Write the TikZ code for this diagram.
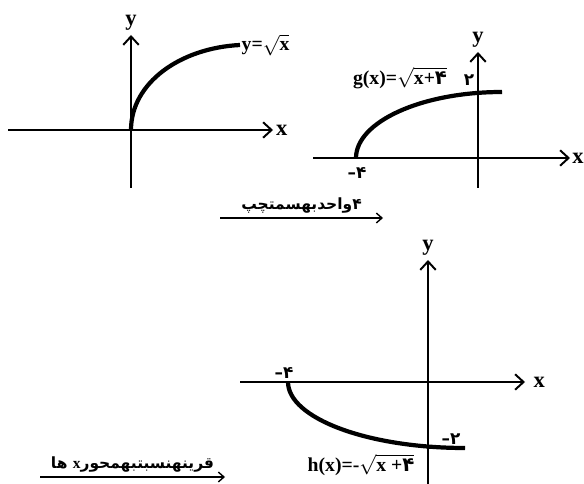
\documentclass[tikz,border=0pt]{standalone}
\usepackage{fontspec}
\setmainfont{Liberation Serif}
\newfontfamily\pfont[Script=Arabic]{DejaVu Sans}
\TeXXeTstate=1
\usetikzlibrary{arrows.meta, positioning}

\begin{document}
\begin{tikzpicture}[
  x=0.025cm, y=-0.025cm,
  axis/.style={line width=1.4pt, -{Straight Barb[length=6pt, width=11pt]}},
  curve/.style={line width=3pt},
  shiftarrow/.style={line width=1pt, -{Straight Barb[length=4pt, width=7pt]}},
  ax/.style={font=\bfseries\fontsize{16}{18}\selectfont, inner sep=1pt},
  lbl/.style={font=\bfseries\fontsize{14}{16}\selectfont, inner sep=1pt},
  num/.style={font=\pfont\bfseries\fontsize{12}{14}\selectfont, inner sep=1pt},
  fa/.style={font=\pfont\bfseries\fontsize{11}{13}\selectfont, inner sep=1pt},
]
  \useasboundingbox (0,0) rectangle (584,484);

  % y = sqrt(x)
  \coordinate (O1) at (131,130);
  \coordinate (xa1) at (8,130);   \coordinate (xb1) at (273,130);
  \coordinate (ya1) at (131,188); \coordinate (yb1) at (131,35);
  \coordinate (E1) at (240,45);
  \draw[axis] (xa1) -- (xb1);
  \draw[axis] (ya1) -- (yb1);
  \node[ax, right=1pt of xb1] (X1) {x};
  \node[ax, above=2pt of yb1] (Y1) {y};
  \draw[curve] (O1) .. controls (131,83) and (180,48) .. (E1);
  \node[lbl, right=0pt of E1] (F1) {y=$\sqrt{\textbf{x}}$};

  % g(x) = sqrt(x+4)
  \coordinate (O2) at (478,158);
  \coordinate (xa2) at (313,158); \coordinate (xb2) at (570,158);
  \coordinate (ya2) at (478,188); \coordinate (yb2) at (478,52);
  \coordinate (S2) at (356,158);  \coordinate (E2) at (502,92);
  \draw[axis] (xa2) -- (xb2);
  \draw[axis] (ya2) -- (yb2);
  \node[ax, anchor=east, inner sep=0pt] (X2) at (584,158) {x};
  \node[ax, above=2pt of yb2] (Y2) {y};
  \draw[curve] (S2) .. controls (356,122) and (421,92) .. (E2);
  \node[lbl] (F2) at (400,78) {g(x)=$\sqrt{\textbf{x+}\hbox{\pfont\bfseries ۴}}$};
  \node[num] (T2) at (469,80) {۲};
  \node[num] (M2) at (357,173) {\textbf{–}۴};

  \coordinate (a1s) at (220,218); \coordinate (a1e) at (383,218);
  \draw[shiftarrow] (a1s) -- node[fa, above=2pt] (L1) {\beginR ۴واحدبهسمتچپ\endR} (a1e);

  % h(x) = -sqrt(x+4)
  \coordinate (O3) at (428,382);
  \coordinate (xa3) at (240,382); \coordinate (xb3) at (525,382);
  \coordinate (ya3) at (428,490); \coordinate (yb3) at (428,260);
  \coordinate (S3) at (288,382);  \coordinate (E3) at (465,448);
  \draw[axis] (xa3) -- (xb3);
  \draw[axis] (ya3) -- (yb3);
  \node[ax, right=5pt of xb3] (X3) {x};
  \node[ax, above=2pt of yb3] (Y3) {y};
  \draw[curve] (S3) .. controls (288,418) and (367,448) .. (E3);
  \node[num] (M3) at (284,373) {\textbf{–}۴};
  \node[num] (T3) at (451,439) {\textbf{–}۲};
  \node[lbl] (F3) at (361,465) {h(x)=-$\sqrt{\textbf{x +}\hbox{\pfont\bfseries ۴}}$};

  \coordinate (a2s) at (40,477); \coordinate (a2e) at (225,477);
  \draw[shiftarrow] (a2s) -- node[fa, above=2pt] (L2) {\beginR قرینهنسبتبهمحور\beginL\textbf{\rmfamily x}\endL{} ها\endR} (a2e);
\end{tikzpicture}
\end{document}
